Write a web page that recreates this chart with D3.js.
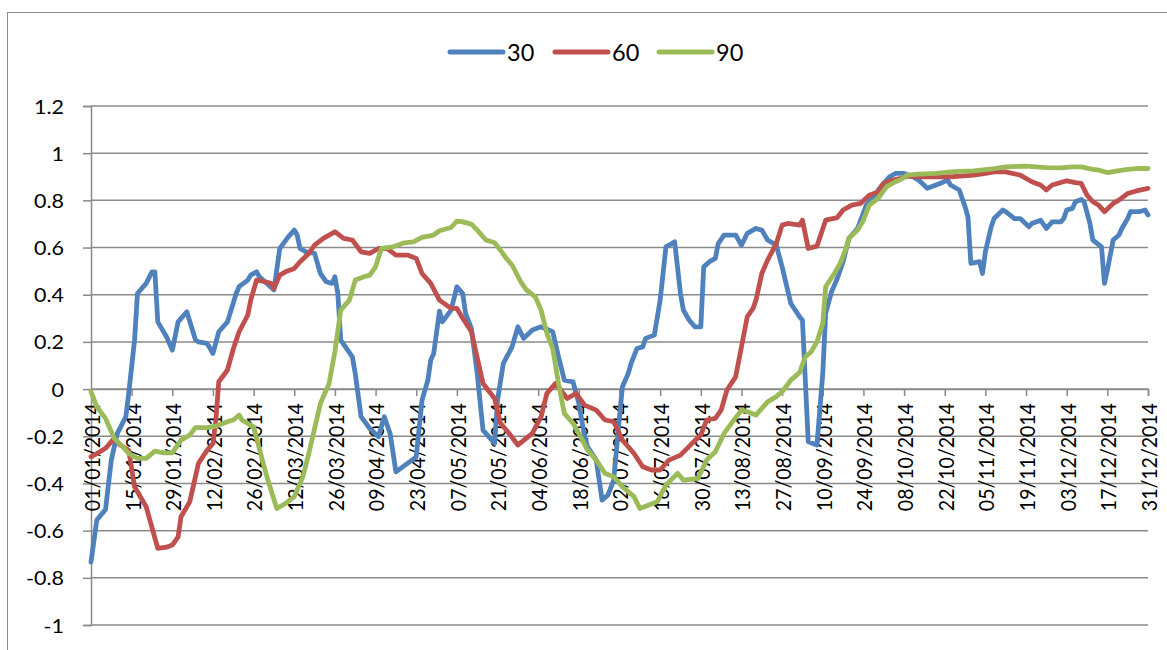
<!DOCTYPE html>
<html>
<head>
<meta charset="utf-8">
<script src="https://cdn.jsdelivr.net/npm/d3@7/dist/d3.min.js"></script>
<style>
  html, body { margin: 0; padding: 0; background: #ffffff; }
  svg { display: block; }
  text { font-family: Lato, "Open Sans", "Liberation Sans", sans-serif; fill: #000; }
</style>
</head>
<body>
<svg id="chart" width="1167" height="650"></svg>
<script>
// ---------------- data (day offset from 01/01/2014, value) ----------------
const seriesNames = ["30", "60", "90"];

const s30Days = [0,2,5,7,9,12,13,15,16,19,21,22,23,26,28,30,33,36,37,40,42,44,47,50,51,54,55,57,58,63,65,68,70,71,72,74,77,79,81,83,84,85,86,90,91,93,96,99,101,103,105,109,112,114,116,117,118,120,121,124,126,128,129,131,133,135,139,140,142,145,147,149,152,155,159,161,163,166,168,170,171,174,176,178,180,182,183,185,186,188,190,191,194,196,198,201,203,204,206,208,210,211,213,215,216,218,222,224,226,229,231,233,236,238,241,244,245,247,250,252,253,255,257,259,261,264,267,269,272,275,277,280,283,285,288,291,293,295,296,299,301,302,303,306,307,308,310,311,314,315,318,320,323,324,327,329,331,334,335,336,338,339,341,342,344,345,348,349,350,352,354,355,357,358,361,363,364];
const s30Vals = [-0.733,-0.555,-0.51,-0.30,-0.19,-0.117,-0.017,0.208,0.405,0.448,0.497,0.497,0.285,0.222,0.165,0.285,0.328,0.208,0.2,0.194,0.151,0.243,0.285,0.405,0.434,0.462,0.483,0.497,0.476,0.42,0.596,0.646,0.674,0.653,0.596,0.582,0.575,0.49,0.455,0.448,0.476,0.405,0.208,0.137,0.066,-0.117,-0.167,-0.202,-0.117,-0.188,-0.351,-0.315,-0.287,-0.047,0.038,0.123,0.15,0.33,0.285,0.335,0.434,0.405,0.321,0.257,0.066,-0.174,-0.23,-0.047,0.109,0.179,0.264,0.215,0.25,0.264,0.243,0.137,0.038,0.031,-0.061,-0.202,-0.245,-0.301,-0.471,-0.449,-0.386,-0.117,0.01,0.066,0.109,0.172,0.179,0.215,0.229,0.377,0.603,0.624,0.405,0.335,0.292,0.264,0.264,0.518,0.54,0.554,0.617,0.653,0.653,0.61,0.66,0.681,0.674,0.632,0.61,0.518,0.363,0.307,0.292,-0.223,-0.237,0.066,0.321,0.412,0.469,0.54,0.639,0.681,0.78,0.808,0.858,0.9,0.914,0.914,0.9,0.886,0.851,0.865,0.875,0.886,0.865,0.844,0.773,0.73,0.533,0.54,0.49,0.582,0.688,0.723,0.759,0.752,0.723,0.723,0.688,0.702,0.716,0.681,0.709,0.709,0.723,0.759,0.766,0.794,0.804,0.794,0.702,0.632,0.603,0.448,0.504,0.632,0.653,0.681,0.723,0.752,0.752,0.759,0.738];

const s60Days = [0,3,5,8,10,13,15,19,23,26,28,30,31,34,37,40,42,43,44,47,49,51,54,55,57,60,62,63,65,67,70,72,75,77,80,82,84,87,90,93,96,99,102,105,109,112,114,117,120,124,126,128,131,135,139,141,144,147,152,155,157,160,164,167,170,174,177,180,183,187,190,193,196,199,203,207,210,212,215,217,219,222,224,226,228,229,231,233,236,238,240,244,245,247,250,253,257,259,262,265,268,271,273,276,279,281,285,296,304,308,311,315,320,324,327,329,331,336,339,341,343,345,347,349,352,354,357,360,364];
const s60Vals = [-0.287,-0.266,-0.251,-0.209,-0.237,-0.259,-0.414,-0.499,-0.675,-0.67,-0.661,-0.626,-0.541,-0.478,-0.315,-0.259,-0.23,-0.131,0.031,0.081,0.17,0.243,0.314,0.377,0.462,0.455,0.448,0.427,0.483,0.497,0.511,0.54,0.575,0.61,0.639,0.653,0.667,0.639,0.632,0.582,0.575,0.596,0.596,0.568,0.568,0.554,0.49,0.448,0.377,0.342,0.342,0.3,0.243,0.024,-0.04,-0.145,-0.188,-0.237,-0.188,-0.117,-0.018,0.024,-0.04,-0.018,-0.068,-0.089,-0.131,-0.138,-0.216,-0.273,-0.329,-0.343,-0.343,-0.301,-0.28,-0.23,-0.195,-0.131,-0.124,-0.089,-0.004,0.052,0.179,0.307,0.342,0.377,0.49,0.547,0.617,0.695,0.702,0.695,0.716,0.596,0.606,0.716,0.727,0.759,0.78,0.787,0.822,0.836,0.872,0.886,0.893,0.903,0.9,0.9,0.907,0.914,0.921,0.921,0.907,0.879,0.865,0.844,0.865,0.883,0.875,0.872,0.822,0.794,0.78,0.752,0.787,0.801,0.829,0.84,0.851];

const s90Days = [0,2,5,8,11,13,16,19,22,25,28,31,34,36,40,43,47,49,51,52,56,59,61,64,67,70,73,75,79,82,84,86,89,91,94,96,98,100,104,108,111,114,118,120,124,126,128,131,133,136,139,141,143,145,148,150,153,155,157,159,161,163,166,168,171,174,177,180,183,187,189,195,198,202,204,209,212,215,218,221,224,226,229,233,236,238,241,244,246,248,250,252,253,256,258,260,261,264,266,268,271,274,277,279,281,285,291,296,301,304,311,315,322,329,334,338,341,345,347,350,353,357,360,364];
const s90Vals = [-0.011,-0.075,-0.124,-0.209,-0.245,-0.273,-0.294,-0.294,-0.263,-0.27,-0.27,-0.216,-0.195,-0.163,-0.163,-0.157,-0.138,-0.131,-0.11,-0.131,-0.16,-0.301,-0.39,-0.506,-0.485,-0.456,-0.37,-0.273,-0.061,0.024,0.16,0.335,0.377,0.462,0.476,0.483,0.518,0.596,0.603,0.62,0.624,0.643,0.653,0.671,0.685,0.712,0.709,0.699,0.674,0.632,0.62,0.589,0.554,0.526,0.455,0.42,0.391,0.335,0.236,0.172,0.024,-0.103,-0.145,-0.188,-0.259,-0.301,-0.357,-0.372,-0.414,-0.456,-0.506,-0.478,-0.407,-0.357,-0.386,-0.379,-0.301,-0.266,-0.188,-0.138,-0.089,-0.096,-0.11,-0.054,-0.032,-0.011,0.038,0.07,0.137,0.158,0.2,0.278,0.434,0.49,0.533,0.596,0.639,0.674,0.716,0.78,0.808,0.858,0.879,0.889,0.907,0.911,0.914,0.921,0.924,0.925,0.935,0.942,0.945,0.939,0.938,0.942,0.942,0.931,0.928,0.918,0.924,0.931,0.935,0.935];

const seriesColors = ["#4F81BD", "#C0504D", "#9BBB59"];
const yTicks = [-1, -0.8, -0.6, -0.4, -0.2, 0, 0.2, 0.4, 0.6, 0.8, 1, 1.2];
const yTickLabels = ["-1", "-0.8", "-0.6", "-0.4", "-0.2", "0", "0.2", "0.4", "0.6", "0.8", "1", "1.2"];
const xTickStepDays = 14;
const startDate = new Date(2014, 0, 1);
const endDate = new Date(2014, 11, 31);

// ---------------- layout ----------------
const svg = d3.select("#chart");
const plot = { left: 91, right: 1148, top: 106, bottom: 625 };
const gridColor = "#8a8a8a";

svg.append("rect")
  .attr("x", 7.5).attr("y", 12.5)
  .attr("width", 1200).attr("height", 700)
  .attr("fill", "none").attr("stroke", "#8a8a8a").attr("stroke-width", 1);

const x = d3.scaleTime().domain([startDate, endDate]).range([plot.left, plot.right]);
const y = d3.scaleLinear().domain([-1, 1.2]).range([plot.bottom, plot.top]);

const dayToDate = d => d3.timeDay.offset(startDate, d);

// gridlines
svg.append("g").selectAll("line").data(yTicks).join("line")
  .attr("x1", plot.left).attr("x2", plot.right)
  .attr("y1", d => y(d)).attr("y2", d => y(d))
  .attr("stroke", gridColor).attr("stroke-width", 1.5);

// y axis
const yAxis = svg.append("g").attr("transform", `translate(${plot.left},0)`)
  .call(d3.axisLeft(y).tickValues(yTicks).tickSize(8).tickPadding(0)
    .tickFormat((d, i) => yTickLabels[i]));
yAxis.select(".domain").attr("stroke", gridColor).attr("stroke-width", 1.5);
yAxis.selectAll(".tick line").attr("stroke", gridColor).attr("stroke-width", 1.5);
yAxis.selectAll(".tick text").remove();
yAxis.selectAll(".tick").append("text")
  .attr("text-anchor", "end")
  .attr("transform", "translate(-27,0) scale(1.1,1)")
  .attr("dy", "0.36em")
  .style("font-size", "19.5px")
  .text((d, i) => yTickLabels[i]);

// x axis at value 0
const xTickDates = d3.range(0, 365, xTickStepDays).map(dayToDate);
const xAxis = svg.append("g").attr("transform", `translate(0,${y(0)})`)
  .call(d3.axisBottom(x).tickValues(xTickDates).tickSize(7)
    .tickFormat(d3.timeFormat("%d/%m/%Y")));
xAxis.select(".domain").attr("stroke", gridColor).attr("stroke-width", 1.5);
xAxis.selectAll(".tick line").attr("stroke", gridColor).attr("stroke-width", 1.5);
xAxis.selectAll(".tick text").remove();
xAxis.selectAll(".tick").append("text")
  .attr("text-anchor", "end")
  .attr("transform", "translate(1,14) scale(1.05,1) rotate(-90)")
  .attr("dy", "0.36em")
  .style("font-size", "19.5px")
  .text(d => d3.timeFormat("%d/%m/%Y")(d));

// series
const seriesData = [
  s30Days.map((d, i) => ({ date: dayToDate(d), v: s30Vals[i] })),
  s60Days.map((d, i) => ({ date: dayToDate(d), v: s60Vals[i] })),
  s90Days.map((d, i) => ({ date: dayToDate(d), v: s90Vals[i] }))
];
const line = d3.line().x(d => x(d.date)).y(d => y(d.v));
svg.append("g").selectAll("path").data(seriesData).join("path")
  .attr("d", line)
  .attr("fill", "none")
  .attr("stroke", (d, i) => seriesColors[i])
  .attr("stroke-width", 4.8)
  .attr("stroke-linejoin", "round")
  .attr("stroke-linecap", "round");

// legend
const legendX = [450, 555, 659];
const lg = svg.append("g").selectAll("g").data(seriesNames).join("g")
  .attr("transform", (d, i) => `translate(${legendX[i]},52)`);
lg.append("line").attr("x1", 0).attr("x2", 53).attr("y1", 0).attr("y2", 0)
  .attr("stroke", (d, i) => seriesColors[i]).attr("stroke-width", 5)
  .attr("stroke-linecap", "round");
lg.append("text").attr("x", 57).attr("y", 8.5)
  .style("font-size", "23.5px")
  .text(d => d);
</script>
</body>
</html>
